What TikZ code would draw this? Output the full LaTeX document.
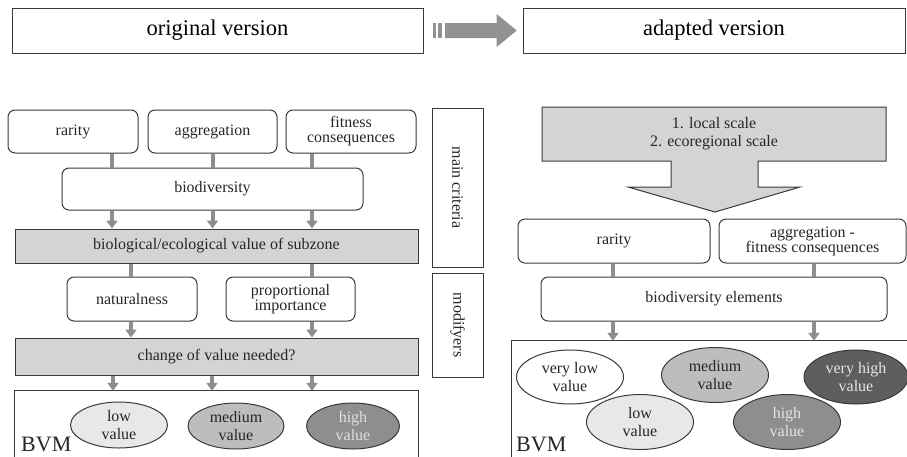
\documentclass[tikz,border=0pt]{standalone}
\usepackage{fontspec}
\setmainfont{Liberation Serif}
\usetikzlibrary{arrows.meta,shapes.geometric,calc}
\definecolor{edgec}{HTML}{3A3A3A}
\definecolor{conng}{HTML}{8E8E8E}
\definecolor{boxg}{HTML}{D4D4D4}
\definecolor{hdrg}{HTML}{929292}
\definecolor{ellA}{HTML}{E8E8E8}
\definecolor{ellB}{HTML}{BDBDBD}
\definecolor{ellC}{HTML}{8E8E8E}
\definecolor{ellD}{HTML}{5E5E5E}
\definecolor{txtc}{HTML}{262626}
\begin{document}
\begin{tikzpicture}[x=1pt,y=-1pt,
  base/.style={line width=1pt, inner sep=0pt, align=center, text=txtc,
    font=\fontsize{16}{15}\selectfont},
  rbox/.style={base, draw=edgec, rounded corners=7pt},
  pbox/.style={base, draw=edgec},
  gbox/.style={base, draw=edgec, fill=boxg},
  hbox/.style={base, draw=edgec, font=\fontsize{22.5}{24}\selectfont, text=black},
  ell/.style={base, ellipse, draw=edgec, font=\fontsize{16}{18}\selectfont},
  conn/.style={draw=conng, line width=4pt},
  carrow/.style={conn, -{Triangle[width=11pt,length=8pt]}},
  bvm/.style={font=\fontsize{22}{24}\selectfont, inner sep=0pt, anchor=base west, text=txtc}
]
\useasboundingbox (0,0) rectangle (907,456);

% header
\node[hbox, minimum width=411, minimum height=45] (orig) at (217.5,30.5) {original version};
\node[hbox, minimum width=382, minimum height=45] (adapt) at (714,30.5) {adapted version};
\fill[hdrg] (432.7,23) rectangle (435.7,38);
\fill[hdrg] (438.3,23) rectangle (441.7,38);
\fill[hdrg] (445,23) -- (496.7,23) -- (496.7,14) -- (516.7,30.5) -- (496.7,47) -- (496.7,38) -- (445,38) -- cycle;

% left panel
\node[rbox, minimum width=130, minimum height=43] (rarL) at (73,131.5) {rarity};
\node[rbox, minimum width=129, minimum height=43] (aggL) at (212.5,131.5) {aggregation};
\node[rbox, minimum width=130, minimum height=43] (fitL) at (351,131.5) {fitness\\consequences};
\node[rbox, minimum width=301, minimum height=42] (bioL) at (212.5,189) {biodiversity};
\node[gbox, minimum width=403, minimum height=34] (valL) at (216.5,246) {biological/ecological value of subzone};
\node[rbox, minimum width=130, minimum height=44] (natL) at (132,299) {naturalness};
\node[rbox, minimum width=129, minimum height=44] (propL) at (290.5,299) {proportional\\importance};
\node[gbox, minimum width=403, minimum height=37] (chgL) at (216.5,356.5) {change of value needed?};
\node[minimum width=403, minimum height=66, inner sep=0pt] (bvmL) at (216.5,424) {};
\draw[edgec, line width=1pt] (bvmL.south west) -- (bvmL.north west) -- (bvmL.north east) -- (bvmL.south east);

\node[ell, fill=ellA, minimum width=97, minimum height=46] (lowL) at (119,425) {low\\value};
\node[ell, fill=ellB, minimum width=96, minimum height=46] (medL) at (236,426) {medium\\value};
\node[ell, fill=ellC, minimum width=93, minimum height=46, text=white!88!black] (higL) at (353,426) {high\\value};
\node[bvm] (bvmtL) at (21,451) {BVM};

% connectors left
\draw[conn] ([xshift=39]rarL.south) -- ([xshift=39]rarL.south |- bioL.north);
\draw[conn] (aggL.south) -- (aggL.south |- bioL.north);
\draw[conn] ([xshift=-39]fitL.south) -- ([xshift=-39]fitL.south |- bioL.north);
\draw[carrow] ([xshift=-100.5]bioL.south) -- ([xshift=-100.5]bioL.south |- valL.north);
\draw[carrow] (bioL.south) -- (bioL.south |- valL.north);
\draw[carrow] ([xshift=99.5]bioL.south) -- ([xshift=99.5]bioL.south |- valL.north);
\draw[conn] (natL.north -| 131,0) -- (valL.south -| 131,0);
\draw[conn] ([xshift=21.5]propL.north) -- ([xshift=21.5]propL.north |- valL.south);
\draw[carrow] (natL.south -| 131,0) -- (chgL.north -| 131,0);
\draw[carrow] ([xshift=21.5]propL.south) -- ([xshift=21.5]propL.south |- chgL.north);
\draw[carrow] ([xshift=-103.5]chgL.south) -- ([xshift=-103.5]chgL.south |- bvmL.north);
\draw[carrow] ([xshift=-4.5]chgL.south) -- ([xshift=-4.5]chgL.south |- bvmL.north);
\draw[carrow] ([xshift=95.5]chgL.south) -- ([xshift=95.5]chgL.south |- bvmL.north);

% side labels
\node[pbox, minimum width=51, minimum height=159] (mainc) at (457.5,187.5) {};
\node[base, rotate=-90] (maincT) at (mainc.center) {main criteria};
\node[pbox, minimum width=51, minimum height=104] (modif) at (457.5,325) {};
\node[base, rotate=-90] (modifT) at (modif.center) {modifyers};

% right panel
\draw[edgec, fill=boxg, line width=1pt] (542,107) -- (886,107) -- (886,161) -- (758,161) -- (758,187) -- (800,187) -- (715,212) -- (628,187) -- (671,187) -- (671,161) -- (542,161) -- cycle;
\node[base, font=\fontsize{16}{18}\selectfont] (scale) at (714,134) {1. local scale\\2. ecoregional scale};

\node[rbox, minimum width=192, minimum height=44] (rarR) at (614,241) {rarity};
\node[rbox, minimum width=187, minimum height=44] (aggR) at (812.5,241) {aggregation -\\fitness consequences};
\node[rbox, minimum width=346, minimum height=44] (bioR) at (714,299) {biodiversity elements};
\node[minimum width=400, minimum height=116, inner sep=0pt] (bvmR) at (712,399) {};
\draw[edgec, line width=1pt] (bvmR.south west) -- (bvmR.north west) -- (bvmR.north east);

\node[ell, fill=white, minimum width=107, minimum height=54] (vlowR) at (570,377) {very low\\value};
\node[ell, fill=ellB, minimum width=107, minimum height=55] (medR) at (715,375) {medium\\value};
\node[ell, fill=ellD, minimum width=104, minimum height=54, text=white!90!black] (vhigR) at (856,377) {very high\\value};
\node[ell, fill=ellA, minimum width=107, minimum height=55] (lowR) at (640,422) {low\\value};
\node[ell, fill=ellC, minimum width=107, minimum height=55, text=white!90!black] (higR) at (787,422) {high\\value};
\node[bvm] (bvmtR) at (516,451) {BVM};

\draw[conn] (rarR.south -| 613,0) -- (bioR.north -| 613,0);
\draw[conn] (aggR.south -| 814,0) -- (bioR.north -| 814,0);
\draw[carrow] (bioR.south -| 613,0) -- (bvmR.north -| 613,0);
\draw[carrow] (bioR.south -| 814,0) -- (bvmR.north -| 814,0);
\end{tikzpicture}
\end{document}
